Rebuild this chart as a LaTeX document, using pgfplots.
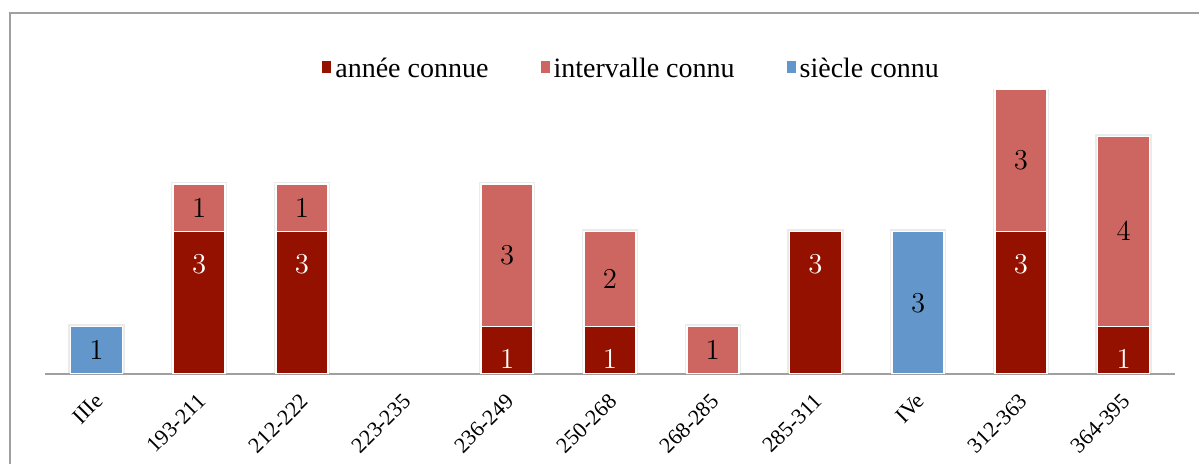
\documentclass[border=0pt]{standalone}
\usepackage{fontspec}
\setmainfont{Liberation Serif}
\usepackage{pgfplots}
\usepackage{pgfplotstable}
\pgfplotsset{compat=1.18}
\definecolor{annee}{HTML}{941100}
\definecolor{interv}{HTML}{CD6660}
\definecolor{siecle}{HTML}{6397CB}
\definecolor{frame}{HTML}{A0A0A0}
\pgfplotstableread{
x a b c
0 0 0 1
1 3 1 0
2 3 1 0
3 0 0 0
4 1 3 0
5 1 2 0
6 0 1 0
7 3 0 0
8 0 0 3
9 3 3 0
10 1 4 0
}\datatab
\pgfplotstableread{
x t
0 1
1 4
2 4
4 4
5 3
6 1
7 3
8 3
9 6
10 5
}\totaltab
\begin{document}
\begin{tikzpicture}
\path[use as bounding box] (-22.5pt,-45pt) rectangle (577pt,187pt);
\draw[frame, line width=1.2pt] (-17.5pt,-46pt) -- (-17.5pt,180.5pt) -- (580pt,180.5pt);
% soft halo behind the bars
\begin{axis}[
  at={(0,0)}, anchor=south west,
  scale only axis, width=565pt, height=142.5pt,
  ybar, bar width=26pt,
  xmin=-0.5, xmax=10.5, ymin=0, ymax=6,
  hide axis,
]
\addplot[fill=white, draw=black!8, line width=2.2pt] table[x=x, y=t] {\totaltab};
\end{axis}
\begin{axis}[
  at={(0,0)}, anchor=south west,
  scale only axis, width=565pt, height=142.5pt,
  ybar stacked, bar width=26pt,
  xmin=-0.5, xmax=10.5, ymin=0, ymax=6,
  axis y line=none,
  axis x line*=bottom,
  x axis line style={draw=frame, line width=0.8pt, -},
  xtick=data,
  xticklabels={IIIe,193-211,212-222,223-235,236-249,250-268,268-285,285-311,IVe,312-363,364-395},
  xticklabel style={rotate=45, anchor=north east, font=\fontsize{11}{13}\selectfont, inner sep=1pt, xshift=-6.2pt, yshift=-4.4pt},
  major tick length=0pt,
  legend style={at={(0.52,1)}, anchor=south, yshift=0pt, draw=none, legend columns=3, font=\fontsize{14}{16}\selectfont,
    /tikz/every even column/.append style={column sep=24pt}},
  legend image code/.code={\draw[#1, draw=none] (0pt,-2pt) rectangle (4.5pt,4pt);},
  every node near coord/.append style={anchor=center, font=\fontsize{14}{16}\selectfont},
]
\addplot[fill=annee, draw=white, line width=0.8pt,
  visualization depends on={\thisrow{a} \as \v},
  nodes near coords={\ifdim\v pt<0.5pt\else\pgfmathprintnumber{\v}\fi},
  every node near coord/.append style={text=white, shift={(axis direction cs:0,\v/2)}, yshift=-16.5pt}]
  table[x=x, y=a] {\datatab};
\addlegendentry{année connue}
\addplot[fill=interv, draw=white, line width=0.8pt,
  visualization depends on={\thisrow{b} \as \v},
  nodes near coords={\ifdim\v pt<0.5pt\else\pgfmathprintnumber{\v}\fi},
  every node near coord/.append style={text=black}]
  table[x=x, y=b] {\datatab};
\addlegendentry{intervalle connu}
\addplot[fill=siecle, draw=white, line width=0.8pt,
  visualization depends on={\thisrow{c} \as \v},
  nodes near coords={\ifdim\v pt<0.5pt\else\pgfmathprintnumber{\v}\fi},
  every node near coord/.append style={text=black}]
  table[x=x, y=c] {\datatab};
\addlegendentry{siècle connu}
\end{axis}
\end{tikzpicture}
\end{document}
